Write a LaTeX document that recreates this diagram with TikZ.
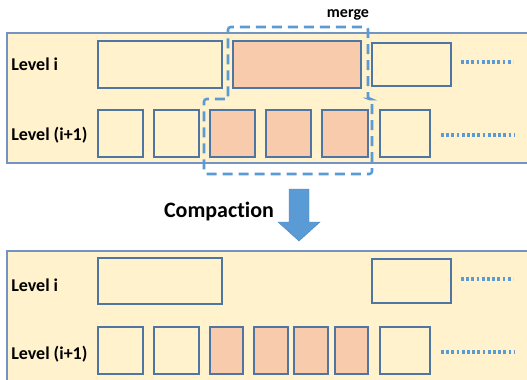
\documentclass[tikz,border=0pt]{standalone}
\usepackage{fontspec}
\setmainfont{Carlito}[Ligatures=NoCommon]
\usepackage{tikz}

\definecolor{panelfill}{HTML}{FFF2CC}
\definecolor{panelline}{HTML}{7393C2}
\definecolor{boxline}{HTML}{4F75A3}
\definecolor{hotfill}{HTML}{F8CBAD}
\definecolor{mergeblue}{HTML}{5B9BD5}

\begin{document}
\begin{tikzpicture}[x=0.75pt, y=-0.75pt,
    panel/.style={draw=panelline, fill=panelfill, line width=1.1pt},
    blk/.style={draw=boxline, line width=1pt},
    dotline/.style={draw=mergeblue, line width=2.3pt, dash pattern=on 2.1pt off 1.8pt},
    mergeline/.style={draw=mergeblue, line width=1.9pt, dash pattern=on 7.5pt off 4.5pt, rounded corners=2pt},
    lbl/.style={anchor=west, inner sep=0pt, font=\bfseries\fontsize{13.5}{15}\selectfont}]
    \useasboundingbox (0,0) rectangle (527,379);
    \begin{scope}
        \clip (0,0) rectangle (527,379);
        % before compaction
        \draw[panel] (7,33) rectangle (545,163);
        \draw[blk, fill=panelfill] (98,41) rectangle (222,88);
        \draw[blk, fill=hotfill] (233,41) rectangle (361,88);
        \draw[blk, fill=panelfill] (372,43) rectangle (451,86);
        \draw[dotline] (461,62) -- (513,62);
        \foreach \a/\b/\c in {98/143/panelfill, 154/199/panelfill, 210/255/hotfill,
                266/311/hotfill, 322/368/hotfill, 380/430/panelfill}
            \draw[blk, fill=\c] (\a,110) rectangle (\b,157);
        \draw[dotline] (441,135) -- (515,135);
        \draw[mergeline] (228,99) -- (228,27) -- (368,27) -- (368,99) -- (372,99)
            -- (372,174) -- (204,174) -- (204,99) -- cycle;
        \node[font=\bfseries\fontsize{12}{14}\selectfont] (merge) at (348,15) {merge};
        \node[lbl] (lvl) at (11,64) {Level i};
        \node[lbl] (lvlnext) at (11,135) {Level (i+1)};

        % the arrow
        \filldraw[fill=mergeblue, draw=mergeblue!85!black, line width=0.3pt]
            (289,189) -- (309,189) -- (309,222) -- (320,222) -- (299,241)
            -- (278,222) -- (289,222) -- cycle;
        \node[font=\bfseries\fontsize{16.5}{19}\selectfont] (compaction) at (219,212) {Compaction};

        % after compaction
        \draw[panel] (7,251) rectangle (545,395);
        \draw[blk, fill=panelfill] (98,258) rectangle (222,304);
        \draw[blk, fill=panelfill] (372,259) rectangle (451,303);
        \draw[dotline] (461,279) -- (513,279);
        \foreach \a/\b/\c in {98/143/panelfill, 154/199/panelfill, 210/243/hotfill,
                254/288/hotfill, 294/328/hotfill, 335/368/hotfill, 380/430/panelfill}
            \draw[blk, fill=\c] (\a,327) rectangle (\b,374);
        \draw[dotline] (441,352) -- (515,352);
        \node[lbl] (lvlb) at (11,285) {Level i};
        \node[lbl] (lvlnextb) at (11,354) {Level (i+1)};
    \end{scope}
\end{tikzpicture}
\end{document}
